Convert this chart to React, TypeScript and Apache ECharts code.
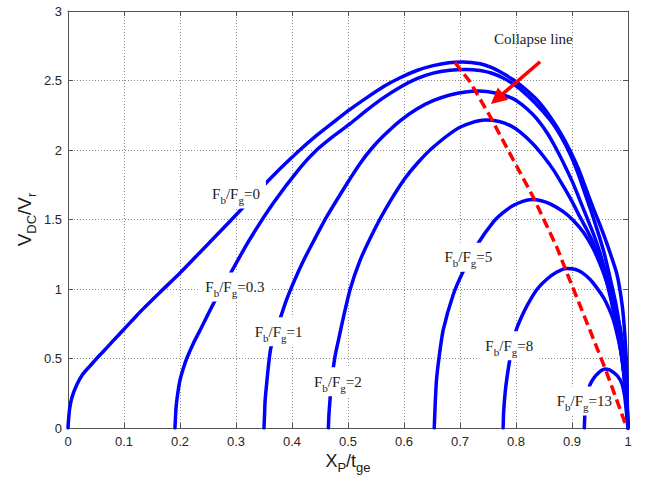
import React, { useEffect, useRef } from "react";
import * as echarts from "echarts";

// ---- data ----
const curveFb0: number[][] = [
  [0, 0], [0.001, 0.06], [0.003, 0.14], [0.007, 0.22], [0.0155, 0.31], [0.026, 0.385], [0.039, 0.445],
  [0.05, 0.495], [0.063, 0.55], [0.08, 0.625], [0.1, 0.71], [0.13, 0.84], [0.164, 0.975], [0.2, 1.115],
  [0.236, 1.265], [0.26, 1.365], [0.31, 1.575], [0.346, 1.73], [0.38, 1.87], [0.414, 2.0], [0.444, 2.105],
  [0.474, 2.2], [0.503, 2.29], [0.533, 2.375], [0.563, 2.455], [0.593, 2.52], [0.623, 2.572], [0.652, 2.607],
  [0.68, 2.628], [0.705, 2.633], [0.736, 2.62], [0.757, 2.592], [0.777, 2.55], [0.795, 2.505], [0.813, 2.45],
  [0.84, 2.35], [0.861, 2.24], [0.88, 2.12], [0.896, 2.0], [0.912, 1.86], [0.926, 1.71], [0.94, 1.56],
  [0.952, 1.44], [0.962, 1.33], [0.98, 1.11], [0.99, 0.87], [0.995, 0.63], [0.998, 0.39], [0.999, 0.15], [1, 0],
];
const curveFb03: number[][] = [
  [0.191, 0], [0.192, 0.08], [0.193, 0.15], [0.196, 0.25], [0.2, 0.345], [0.206, 0.43], [0.212, 0.5],
  [0.224, 0.61], [0.236, 0.705], [0.26, 0.897], [0.292, 1.125], [0.322, 1.34], [0.367, 1.62], [0.414, 1.87],
  [0.444, 2.0], [0.474, 2.1], [0.504, 2.19], [0.533, 2.285], [0.563, 2.375], [0.593, 2.452], [0.623, 2.513],
  [0.652, 2.553], [0.682, 2.574], [0.71, 2.58], [0.736, 2.572], [0.757, 2.552], [0.777, 2.518], [0.795, 2.475],
  [0.807, 2.44], [0.835, 2.335], [0.861, 2.216], [0.88, 2.1], [0.896, 1.976], [0.91, 1.84], [0.923, 1.69],
  [0.935, 1.55], [0.947, 1.4], [0.958, 1.25], [0.968, 1.08], [0.978, 0.9], [0.986, 0.7], [0.992, 0.5],
  [0.996, 0.3], [0.999, 0.12], [1, 0],
];
const curveFb1: number[][] = [
  [0.35, 0], [0.351, 0.1], [0.352, 0.2], [0.355, 0.33], [0.358, 0.45], [0.362, 0.573], [0.37, 0.68],
  [0.379, 0.789], [0.39, 0.92], [0.402, 1.04], [0.42, 1.2], [0.438, 1.34], [0.462, 1.52], [0.5, 1.77],
  [0.521, 1.9], [0.54, 2.0], [0.563, 2.1], [0.593, 2.21], [0.623, 2.295], [0.652, 2.355], [0.682, 2.396],
  [0.71, 2.418], [0.735, 2.424], [0.765, 2.408], [0.785, 2.385], [0.801, 2.355], [0.82, 2.295],
  [0.837, 2.225], [0.856, 2.12], [0.873, 2.0], [0.888, 1.88], [0.902, 1.76], [0.914, 1.64], [0.926, 1.52],
  [0.938, 1.4], [0.95, 1.26], [0.962, 1.09], [0.974, 0.88], [0.983, 0.68], [0.99, 0.48], [0.995, 0.28],
  [0.998, 0.12], [1, 0],
];
const curveFb2: number[][] = [
  [0.465, 0], [0.466, 0.1], [0.468, 0.21], [0.47, 0.32], [0.474, 0.44], [0.478, 0.54], [0.483, 0.633],
  [0.492, 0.8], [0.504, 1.0], [0.521, 1.2], [0.539, 1.36], [0.565, 1.56], [0.599, 1.78], [0.625, 1.91],
  [0.652, 2.02], [0.694, 2.15], [0.72, 2.195], [0.745, 2.215], [0.77, 2.205], [0.79, 2.175], [0.807, 2.13],
  [0.83, 2.045], [0.849, 1.955], [0.868, 1.85], [0.885, 1.736], [0.9, 1.63], [0.914, 1.52], [0.926, 1.43],
  [0.938, 1.33], [0.955, 1.15], [0.968, 0.95], [0.98, 0.72], [0.989, 0.5], [0.995, 0.3], [0.998, 0.13], [1, 0],
];
const curveFb5: number[][] = [
  [0.654, 0], [0.655, 0.1], [0.656, 0.2], [0.658, 0.345], [0.663, 0.52], [0.67, 0.705], [0.688, 0.96],
  [0.705, 1.12], [0.731, 1.32], [0.76, 1.485], [0.777, 1.55], [0.795, 1.6], [0.812, 1.63], [0.828, 1.643],
  [0.845, 1.635], [0.861, 1.612], [0.885, 1.555], [0.902, 1.495], [0.92, 1.41], [0.938, 1.29], [0.953, 1.15],
  [0.968, 0.98], [0.978, 0.85], [0.986, 0.72], [0.992, 0.55], [0.996, 0.37], [0.998, 0.2], [1, 0],
];
const curveFb8: number[][] = [
  [0.777, 0], [0.778, 0.12], [0.781, 0.27], [0.786, 0.42], [0.792, 0.56], [0.8, 0.7], [0.81, 0.8],
  [0.821, 0.89], [0.838, 1.0], [0.855, 1.07], [0.873, 1.122], [0.89, 1.148], [0.905, 1.142], [0.918, 1.118],
  [0.932, 1.07], [0.944, 1.01], [0.956, 0.94], [0.966, 0.86], [0.974, 0.777], [0.982, 0.65], [0.989, 0.513],
  [0.994, 0.35], [0.997, 0.2], [1, 0],
];
const curveFb13: number[][] = [
  [0.922, 0], [0.923, 0.1], [0.925, 0.18], [0.928, 0.25], [0.932, 0.31], [0.94, 0.365], [0.947, 0.395],
  [0.953, 0.415], [0.959, 0.425], [0.966, 0.42], [0.974, 0.4], [0.982, 0.37], [0.989, 0.32], [0.994, 0.23],
  [0.997, 0.12], [1, 0],
];
const collapseLine: number[][] = [
  [0.691, 2.63], [0.718, 2.49], [0.754, 2.24], [0.795, 1.93], [0.831, 1.66], [0.873, 1.3], [0.8875, 1.15],
  [0.92, 0.825], [0.959, 0.43], [0.98, 0.2], [0.998, 0],
];
const arrowFrom = [0.843, 2.635];
const arrowTo = [0.766, 2.368];

const ratioLabels = ["0", "0.3", "1", "2", "5", "8", "13"];
const ratioLabelPos: number[][] = [
  [0.3, 1.683], [0.298, 1.014], [0.376, 0.693], [0.482, 0.333], [0.715, 1.228], [0.788, 0.592], [0.922, 0.194],
];
const collapseText = "Collapse line";
const collapseTextPos = [0.831, 2.8];

const curves = [curveFb0, curveFb03, curveFb1, curveFb2, curveFb5, curveFb8, curveFb13];

const SANS = "'Liberation Sans', Arial, sans-serif";
const SERIF = "'Liberation Serif', 'Times New Roman', serif";
const AXIS_COLOR = "#555";
const GRID_COLOR = "#8a8a8a";

export default function App() {
  const ref = useRef<HTMLDivElement>(null);
  useEffect(() => {
    document.body.style.margin = "0";
    if (!ref.current) return;
    const chart = echarts.init(ref.current, undefined, { renderer: "svg" });

    const baseAxis = {
      type: "value" as const,
      axisLine: { show: true, onZero: false, lineStyle: { color: AXIS_COLOR, width: 1 } },
      axisTick: { show: true, inside: true, length: 5, lineStyle: { color: AXIS_COLOR } },
    };

    const option: any = {
      animation: false,
      backgroundColor: "#fff",
      grid: { left: 68, top: 11, right: 19, bottom: 55, containLabel: false, outerBoundsMode: "none" },
      xAxis: [
        {
          ...baseAxis,
          min: 0, max: 1, interval: 0.1,
          position: "bottom",
          axisLabel: { color: "#262626", fontFamily: SANS, fontSize: 13, margin: 7 },
          splitLine: { show: true, lineStyle: { color: GRID_COLOR, width: 1, type: [1, 2] } },
          name: "{m|X}{s|P}{m|/t}{s|ge}",
          nameLocation: "middle",
          nameMoveOverlap: false,
          nameGap: 19,
          nameTextStyle: {
            color: "#1a1a1a",
            rich: {
              m: { fontFamily: SANS, fontSize: 18, color: "#1a1a1a" },
              s: { fontFamily: SANS, fontSize: 13, color: "#1a1a1a", padding: [14, 0, 0, 0] },
            },
          },
        },
        {
          ...baseAxis,
          min: 0, max: 1, interval: 0.1,
          position: "top",
          axisLabel: { show: false },
          splitLine: { show: false },
        },
      ],
      yAxis: [
        {
          ...baseAxis,
          min: 0, max: 3, interval: 0.5,
          position: "left",
          axisLabel: { color: "#262626", fontFamily: SANS, fontSize: 13, margin: 6 },
          splitLine: { show: true, lineStyle: { color: GRID_COLOR, width: 1, type: [1, 2] } },
          name: "{m|V}{s|DC}{m|/V}{s|r}",
          nameLocation: "middle",
          nameMoveOverlap: false,
          nameGap: 30,
          nameTextStyle: {
            color: "#1a1a1a",
            rich: {
              m: { fontFamily: SANS, fontSize: 19, color: "#1a1a1a" },
              s: { fontFamily: SANS, fontSize: 13, color: "#1a1a1a", padding: [14, 0, 0, 0] },
            },
          },
        },
        {
          ...baseAxis,
          min: 0, max: 3, interval: 0.5,
          position: "right",
          axisLabel: { show: false },
          splitLine: { show: false },
        },
      ],
      series: [
        ...curves.map((c, i) => ({
          name: "Fb/Fg=" + ratioLabels[i],
          type: "line",
          data: c,
          showSymbol: false,
          symbol: "none",
          silent: true,
          smooth: 0.2,
          z: 2,
          lineStyle: { color: "#0000ff", width: 3.5, cap: "round", join: "round" },
        })),
        {
          name: "labels",
          type: "scatter",
          silent: true,
          z: 5,
          symbolSize: 1,
          itemStyle: { color: "#ffffff", opacity: 1 },
          data: ratioLabelPos.map((p, i) => ({ value: p, name: ratioLabels[i] })),
          label: {
            show: true,
            position: "inside",
            formatter: (p: any) => "F{s|b}/F{s|g}=" + p.name,
            fontFamily: SERIF,
            fontSize: 15,
            color: "#1a1a1a",
            backgroundColor: "#ffffff",
            opacity: 1,
            padding: [3, 6, 3, 6],
            rich: {
              s: { fontFamily: SERIF, fontSize: 11, color: "#1a1a1a", padding: [12, 0, 0, 0] },
            },
          },
        },
        {
          name: "collapseText",
          type: "scatter",
          silent: true,
          z: 5,
          symbolSize: 1,
          itemStyle: { color: "#ffffff", opacity: 1 },
          data: [{ value: collapseTextPos, name: collapseText }],
          label: {
            show: true,
            position: "inside",
            formatter: (p: any) => p.name,
            fontFamily: SERIF,
            fontSize: 15,
            color: "#222",
          },
        },
        {
          name: "Collapse line",
          type: "line",
          data: collapseLine,
          showSymbol: false,
          symbol: "none",
          silent: true,
          z: 8,
          lineStyle: { color: "#ff0000", width: 3.5, type: [10, 5] },
          markLine: {
            silent: true,
            symbol: ["none", "triangle"],
            symbolSize: 16,
            label: { show: false },
            lineStyle: { color: "#ff0000", width: 3.5, type: "solid" },
            itemStyle: { color: "#ff0000" },
            data: [[{ coord: arrowFrom }, { coord: arrowTo }]],
          },
        },
      ],
    };
    chart.setOption(option);
    return () => chart.dispose();
  }, []);
  return <div ref={ref} style={{ width: 647, height: 483 }} />;
}
